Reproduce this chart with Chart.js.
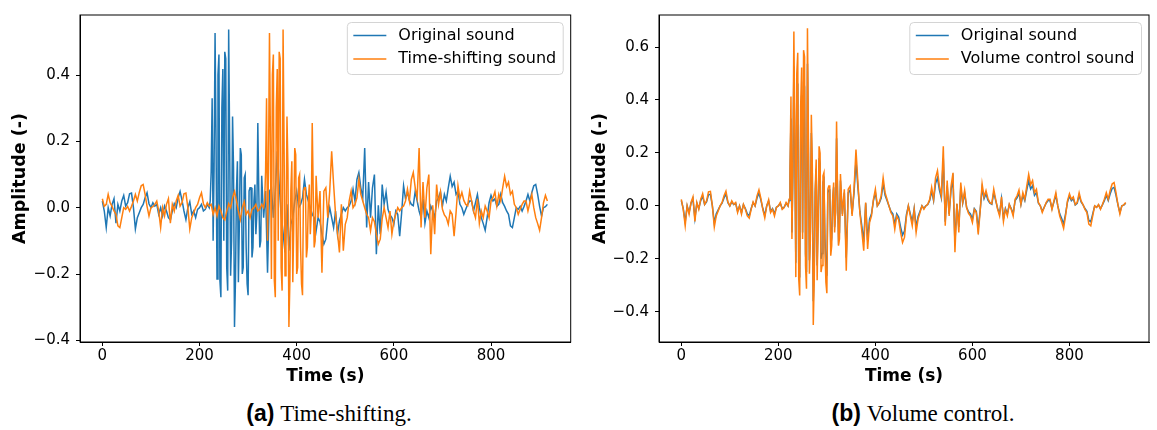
<!DOCTYPE html>
<html>
<head>
<meta charset="utf-8">
<script src="https://cdn.jsdelivr.net/npm/chart.js@4.4.1/dist/chart.umd.min.js"></script>
<style>
  body { margin: 0; background: #fff; width: 1157px; height: 430px; position: relative; overflow: hidden; }
  .panel { position: absolute; top: 0; height: 395px; }
  .caption { position: absolute; top: 398px; height: 30px; line-height: 30px; text-align: center; font-size: 23px; color: #000; }
  .caption b { font-family: "Liberation Sans", Arial, sans-serif; }
  .caption span { font-family: "Liberation Serif", "Times New Roman", serif; }
</style>
</head>
<body>
<div class="panel" style="left:0;width:580px"><canvas id="chartA"></canvas></div>
<div class="panel" style="left:580px;width:577px"><canvas id="chartB"></canvas></div>
<div class="caption" style="left:0;width:658px"><b>(a)</b> <span>Time-shifting.</span></div>
<div class="caption" style="left:673px;width:500px"><b>(b)</b> <span>Volume control.</span></div>
<script>
// base grid: one sample every 4 s, 0 .. 916 s
const SAMPLE_STEP = 4;
// extra samples inside the burst sit between the grid samples
const BURST_START = 222;   // original burst, s
const SHIFTED_BURST_START = 334; // same burst after the time shift, s

const originalSound = [
  0.02,-0.01,-0.06,0,-0.025,0.01,0.027,-0.047,0.01,-0.01,
  0.02,0.037,0.005,0.015,0.042,0.044,0,-0.064,-0.03,-0.015,
  0,0.01,0.03,0.045,0.012,0,0.015,0.005,0.01,-0.02,
  0,-0.025,0.005,-0.01,-0.03,-0.037,-0.01,0.012,0,0.03,
  0.049,0.022,-0.01,-0.036,0,0.018,-0.02,-0.01,-0.03,-0.005,
  0,0.01,-0.01,-0.005,0.01,0,0.11,-0.1,0.527,-0.215,
  0.462,-0.27,0.418,0.47,-0.18,0.537,-0.205,0.275,-0.36,0.05,
  -0.225,0.18,-0.2,0.09,-0.12,-0.264,0.06,-0.15,0.02,-0.08,
  0.255,-0.12,0.096,-0.03,0.05,-0.196,0.05,0.06,-0.03,0.05,
  0.17,0.07,-0.02,-0.075,-0.135,0.01,-0.13,-0.05,-0.03,0.02,
  0.05,0,0.01,0.03,0.085,0.04,0.02,0,-0.02,-0.03,
  -0.07,-0.03,-0.042,-0.08,-0.11,-0.095,-0.033,0,-0.03,-0.06,
  -0.01,-0.08,-0.04,-0.02,0,-0.01,0,0.005,0.02,0.056,
  0.02,0.085,0.106,0.06,0.03,0.18,-0.06,0.077,-0.03,0.06,
  0.1,-0.14,0.007,-0.08,0.07,0.01,0.047,-0.005,-0.022,-0.03,
  -0.05,-0.01,-0.02,-0.086,-0.016,0.066,0.027,0.046,0.022,0.01,
  0.006,0.05,0.02,-0.01,-0.03,0.027,-0.047,-0.01,-0.03,0.005,
  -0.01,-0.03,0.02,0.03,0.048,0.005,0.04,0.02,0.06,0.095,
  0.064,0.077,0.04,0.05,0.01,0,-0.02,-0.005,0.01,0.02,
  0.02,-0.01,0.015,0.04,0,-0.03,-0.048,-0.068,-0.03,0.015,
  0.037,0.02,0.027,0.004,0.01,0.04,0.015,0.004,-0.01,-0.02,
  -0.055,-0.06,-0.03,0,-0.005,0.004,-0.01,0.004,0.02,0.04,
  0.02,0.046,0.066,0.07,0.04,0.004,-0.025,0,0.003,0.01
];
const originalBurstExtra = [
  0.02,0.33,0.12,0.2,0.4,-0.22,0.3,-0.1,0.45,-0.25,
  0.2,-0.1,0.12,-0.22,0.14,-0.05,0.16,-0.18,0.1,-0.23,
  0.05,0.06,-0.12,0.07,-0.02,0.05,-0.1,0.03
];

const timeShiftSound = [
  0.027,0.004,0.01,0.04,0.015,0.004,-0.01,-0.02,-0.055,-0.06,
  -0.03,0,-0.005,0.004,-0.01,0.004,0.02,0.04,0.02,0.046,
  0.066,0.07,0.04,0.004,-0.025,0,0.003,0.01,
  0.02,-0.01,-0.06,0,-0.025,0.01,0.027,-0.047,0.01,-0.01,
  0.02,0.037,0.005,0.015,0.042,0.044,0,-0.064,-0.03,-0.015,
  0,0.01,0.03,0.045,0.012,0,0.015,0.005,0.01,-0.02,
  0,-0.025,0.005,-0.01,-0.03,-0.037,-0.01,0.012,0,0.03,
  0.049,0.022,-0.01,-0.036,0,0.018,-0.02,-0.01,-0.03,-0.005,
  0,0.01,-0.01,-0.005,0.01,0,0.11,-0.1,0.527,-0.215,
  0.462,-0.27,0.418,0.47,-0.18,0.537,-0.205,0.275,-0.36,0.05,
  -0.225,0.18,-0.2,0.09,-0.12,-0.264,0.06,-0.15,0.02,-0.08,
  0.255,-0.12,0.096,-0.03,0.05,-0.196,0.05,0.06,-0.03,0.05,
  0.17,0.07,-0.02,-0.075,-0.135,0.01,-0.13,-0.05,-0.03,0.02,
  0.05,0,0.01,0.03,0.085,0.04,0.02,0,-0.02,-0.03,
  -0.07,-0.03,-0.042,-0.08,-0.11,-0.095,-0.033,0,-0.03,-0.06,
  -0.01,-0.08,-0.04,-0.02,0,-0.01,0,0.005,0.02,0.056,
  0.02,0.085,0.106,0.06,0.03,0.18,-0.06,0.077,-0.03,0.06,
  0.1,-0.14,0.007,-0.08,0.07,0.01,0.047,-0.005,-0.022,-0.03,
  -0.05,-0.01,-0.02,-0.086,-0.016,0.066,0.027,0.046,0.022,0.01,
  0.006,0.05,0.02,-0.01,-0.03,0.027,-0.047,-0.01,-0.03,0.005,
  -0.01,-0.03,0.02,0.03,0.048,0.005,0.04,0.02,0.06,0.095,
  0.064,0.077,0.04,0.05,0.01,0,-0.02,-0.005,0.01,0.02,
  0.02,-0.01,0.015,0.04,0,-0.03,-0.048,-0.068,-0.03,0.015,
  0.037,0.02
];
const timeShiftBurstExtra = [
  0.02,0.33,0.12,0.2,0.4,-0.22,0.3,-0.1,0.45,-0.25,
  0.2,-0.1,0.12,-0.22,0.14,-0.05,0.16,-0.18,0.1,-0.23,
  0.05,0.06,-0.12,0.07,-0.02,0.05,-0.1,0.03
];

const volumeSound = [
  0.025,-0.013,-0.075,0,-0.031,0.013,0.034,-0.059,0.013,-0.013,
  0.025,0.046,0.006,0.019,0.053,0.055,0,-0.08,-0.038,-0.019,
  0,0.013,0.038,0.056,0.015,0,0.019,0.006,0.013,-0.025,
  0,-0.031,0.006,-0.013,-0.038,-0.046,-0.013,0.015,0,0.038,
  0.061,0.028,-0.013,-0.045,0,0.023,-0.025,-0.013,-0.038,-0.006,
  0,0.013,-0.013,-0.006,0.013,0,0.138,-0.125,0.659,-0.269,
  0.578,-0.338,0.523,0.588,-0.225,0.671,-0.256,0.344,-0.45,0.063,
  -0.281,0.225,-0.25,0.113,-0.15,-0.33,0.075,-0.188,0.025,-0.1,
  0.319,-0.15,0.12,-0.038,0.063,-0.245,0.063,0.075,-0.038,0.063,
  0.213,0.088,-0.025,-0.094,-0.169,0.013,-0.163,-0.063,-0.038,0.025,
  0.063,0,0.013,0.038,0.106,0.05,0.025,0,-0.025,-0.038,
  -0.088,-0.038,-0.053,-0.1,-0.138,-0.119,-0.041,0,-0.038,-0.075,
  -0.013,-0.1,-0.05,-0.025,0,-0.013,0,0.006,0.025,0.07,
  0.025,0.106,0.133,0.075,0.038,0.225,-0.075,0.096,-0.038,0.075,
  0.125,-0.175,0.009,-0.1,0.088,0.013,0.059,-0.006,-0.028,-0.038,
  -0.063,-0.013,-0.025,-0.108,-0.02,0.083,0.034,0.058,0.028,0.013,
  0.008,0.063,0.025,-0.013,-0.038,0.034,-0.059,-0.013,-0.038,0.006,
  -0.013,-0.038,0.025,0.038,0.06,0.006,0.05,0.025,0.075,0.119,
  0.08,0.096,0.05,0.063,0.013,0,-0.025,-0.006,0.013,0.025,
  0.025,-0.013,0.019,0.05,0,-0.038,-0.06,-0.085,-0.038,0.019,
  0.046,0.025,0.034,0.005,0.013,0.05,0.019,0.005,-0.013,-0.025,
  -0.069,-0.075,-0.038,0,-0.006,0.005,-0.013,0.005,0.025,0.05,
  0.025,0.058,0.083,0.088,0.05,0.005,-0.031,0,0.004,0.013
];
const volumeBurstExtra = [
  0.025,0.413,0.15,0.25,0.5,-0.275,0.375,-0.125,0.563,-0.313,
  0.25,-0.125,0.15,-0.275,0.175,-0.063,0.2,-0.225,0.125,-0.288,
  0.063,0.075,-0.15,0.088,-0.025,0.063,-0.125,0.038
];

const xTicks = [0, 200, 400, 600, 800];
const yTicksA = [-0.4, -0.2, 0.0, 0.2, 0.4];
const yTicksB = [-0.4, -0.2, 0.0, 0.2, 0.4, 0.6];

const BLUE = '#1f77b4';
const ORANGE = '#ff7f0e';
const FONT = '"DejaVu Sans", sans-serif';

// grid samples + burst samples, sorted by time
function toPoints(values, extra, extraStart) {
  const pts = values.map((v, i) => ({ x: i * SAMPLE_STEP, y: v }));
  extra.forEach((v, i) => pts.push({ x: extraStart + i * SAMPLE_STEP, y: v }));
  return pts.sort((a, b) => a.x - b.x);
}

function fmtTick(v) {
  return (v < 0 ? '\u2212' : '') + Math.abs(v).toFixed(1);
}

// closed box + matplotlib style legend in the upper right
const frameAndLegend = {
  id: 'frameAndLegend',
  afterDatasetsDraw(chart) {
    const { ctx, chartArea: a } = chart;
    ctx.save();
    ctx.strokeStyle = '#000';
    ctx.lineWidth = 1;
    ctx.strokeRect(a.left, a.top, a.right - a.left, a.bottom - a.top);
    ctx.restore();
  },
  afterDraw(chart) {
    const { ctx, chartArea: a } = chart;
    const sets = chart.data.datasets;
    ctx.save();
    ctx.font = '16px ' + FONT;
    const textW = Math.max(...sets.map(d => ctx.measureText(d.label).width));
    const w = 6 + 33 + 12 + textW + 7;
    const h = 52;
    const right = a.right - 7.5;
    const top = a.top + 7.5;
    const left = right - w;
    ctx.beginPath();
    ctx.roundRect(left, top, w, h, 4);
    ctx.fillStyle = 'rgba(255,255,255,0.8)';
    ctx.fill();
    ctx.strokeStyle = '#d4d4d4';
    ctx.lineWidth = 1;
    ctx.stroke();
    sets.forEach((d, i) => {
      const y = top + 13 + i * 23.5;
      ctx.beginPath();
      ctx.moveTo(left + 6, y);
      ctx.lineTo(left + 39, y);
      ctx.strokeStyle = d.borderColor;
      ctx.lineWidth = 1.5;
      ctx.stroke();
      ctx.fillStyle = '#000';
      ctx.textBaseline = 'middle';
      ctx.fillText(d.label, left + 51, y);
    });
    ctx.restore();
  }
};

function makeChart(id, secondLabel, secondPoints, yMin, yMax, yTicks, axisWidth, padRight) {
  return new Chart(document.getElementById(id), {
    type: 'line',
    data: {
      datasets: [
        { label: 'Original sound', data: toPoints(originalSound, originalBurstExtra, BURST_START), borderColor: BLUE, order: 1 },
        { label: secondLabel, data: secondPoints, borderColor: ORANGE, order: 0 }
      ]
    },
    options: {
      responsive: true,
      maintainAspectRatio: false,
      animation: false,
      layout: { padding: { top: 10, right: padRight, left: 0, bottom: 0 } },
      elements: {
        point: { radius: 0 },
        line: { borderWidth: 1.5, tension: 0 }
      },
      plugins: { legend: { display: false }, tooltip: { enabled: false } },
      scales: {
        x: {
          type: 'linear',
          min: -46,
          max: 964,
          afterBuildTicks: s => { s.ticks = xTicks.map(v => ({ value: v })); },
          afterFit: s => { s.height = 53; },
          grid: { drawOnChartArea: false, drawTicks: true, tickLength: 4, tickColor: '#000', tickWidth: 1 },
          border: { display: true, color: '#000', width: 1 },
          ticks: { color: '#000', font: { family: FONT, size: 15 }, padding: 1, maxRotation: 0 },
          title: { display: true, text: 'Time (s)', color: '#000', font: { family: FONT, size: 17, weight: 'bold' }, padding: { top: 0, bottom: 8 } }
        },
        y: {
          type: 'linear',
          min: yMin,
          max: yMax,
          afterBuildTicks: s => { s.ticks = yTicks.map(v => ({ value: v })); },
          afterFit: s => { s.width = axisWidth; },
          grid: { drawOnChartArea: false, drawTicks: true, tickLength: 4, tickColor: '#000', tickWidth: 1 },
          border: { display: true, color: '#000', width: 1 },
          ticks: { color: '#000', font: { family: FONT, size: 15 }, padding: 6, callback: fmtTick },
          title: { display: true, text: 'Amplitude (-)', color: '#000', font: { family: FONT, size: 17.5, weight: 'bold' }, padding: { top: 10, bottom: 0 } }
        }
      }
    },
    plugins: [frameAndLegend]
  });
}

makeChart('chartA', 'Time-shifting sound', toPoints(timeShiftSound, timeShiftBurstExtra, SHIFTED_BURST_START), -0.405, 0.581, yTicksA, 80, 9.3);
makeChart('chartB', 'Volume control sound', toPoints(volumeSound, volumeBurstExtra, BURST_START), -0.514, 0.721, yTicksB, 79, 8);
</script>
</body>
</html>
